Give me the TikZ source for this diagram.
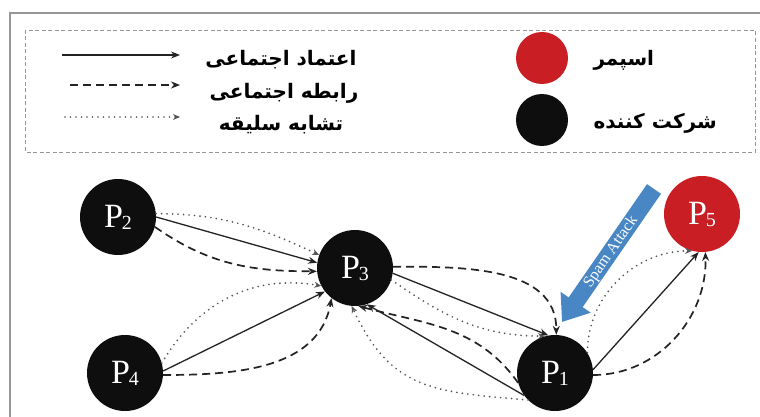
\documentclass[tikz,border=0pt]{standalone}
\usepackage{fontspec}
\setmainfont{Liberation Serif}
\newfontfamily\arabicfont[Script=Arabic]{DejaVu Sans}
\TeXXeTstate=1
\usetikzlibrary{arrows.meta}

\definecolor{nodeblack}{RGB}{14,14,14}
\definecolor{spamred}{RGB}{200,30,36}
\definecolor{attackblue}{RGB}{72,134,196}
\definecolor{framegray}{RGB}{150,150,150}
\definecolor{edgedark}{RGB}{35,35,35}
\definecolor{dotgray}{RGB}{85,85,85}

\tikzset{
  peer/.style={circle, fill=nodeblack, minimum size=76pt, inner sep=0pt,
    text=white, font=\fontsize{34}{34}\selectfont},
  spammer/.style={peer, fill=spamred},
  keydot/.style={circle, minimum size=52pt, inner sep=0pt},
  trust/.style={draw=edgedark, line width=1.3pt, -{Stealth[length=9pt,width=7pt]}},
  social/.style={draw=edgedark, line width=1.7pt, dash pattern=on 8pt off 5pt,
    -{Stealth[length=9pt,width=7pt]}},
  taste/.style={draw=dotgray, line width=1.9pt, line cap=round,
    dash pattern=on 0pt off 5.5pt, -{Stealth[length=7pt,width=6pt]}},
  legtext/.style={font=\arabicfont\bfseries\fontsize{20}{20}\selectfont},
  spamarrow/.style={draw=attackblue, line width=17pt,
    -{Triangle[length=24pt,width=35pt]}},
}
\newcommand{\plabel}[1]{P\kern-1pt\raisebox{-2pt}{\fontsize{20}{20}\selectfont #1}}

\begin{document}
\begin{tikzpicture}[x=1pt,y=-1pt]
\useasboundingbox (0,0) rectangle (760,417);
\fill[white] (0,0) rectangle (760,417);

% outer frame (top and left edges)
\draw[framegray, line width=1.6pt] (760,13) -- (10,13) -- (10,417);

% legend box
\draw[framegray, line width=0.9pt, dash pattern=on 4pt off 2.5pt] (25,30) rectangle (755,152);

% legend: edge types
\coordinate (l1s) at (62,55);  \coordinate (l1e) at (180,55);
\coordinate (l2s) at (70,85);  \coordinate (l2e) at (180,85);
\coordinate (l3s) at (65,117); \coordinate (l3e) at (180,117);
\draw[trust] (l1s) -- (l1e);
\draw[social] (l2s) -- (l2e);
\draw[taste] (l3s) -- (l3e);
\node[legtext] (t1) at (281,60) {\beginR اعتماد اجتماعی\endR};
\node[legtext] (t2) at (284,93) {\beginR رابطه اجتماعی\endR};
\node[legtext] (t3) at (281,125) {\beginR تشابه سلیقه\endR};

% legend: node types
\node[keydot, fill=spamred] (k1) at (542,58) {};
\node[keydot, fill=nodeblack] (k2) at (542,120) {};
\node[legtext, anchor=west] (t4) at (590,60) {\beginR اسپمر\endR};
\node[legtext, anchor=west] (t5) at (590,123) {\beginR شرکت کننده\endR};

% peers
\node[peer] (P2) at (118,217) {\plabel{2}};
\node[peer] (P3) at (355,268) {\plabel{3}};
\node[peer] (P4) at (125,373) {\plabel{4}};
\node[peer] (P1) at (555,373) {\plabel{1}};
\node[spammer] (P5) at (702,214) {\plabel{5}};

% P2 -> P3
\draw[trust] (P2.0) -- (P3.172);
\draw[social] (P2.-15) to[out=-35, in=180] (P3.185);
\draw[taste] (P2.5) to[out=0, in=155] (P3.160);

% P4 -> P3
\draw[trust] (P4.3) -- (P3.218);
\draw[social] (P4.-3) to[out=0, in=-100] (P3.232);
\draw[taste] (P4.15) to[out=60, in=170] (P3.208);

% P3 <-> P1
\draw[trust] (P3.-8) -- (P1.100);
\draw[social] (P3.2) to[out=0, in=90] (P1.88);
\draw[taste] (P3.-18) to[out=-35, in=180] (P1.105);
\draw[trust] (P1.216) -- (P3.-72);
\draw[social] (P1.195) to[out=125, in=-15] (P3.-85);
\draw[taste] (P1.225) to[out=175, in=-65, looseness=1.2] (P3.-95);

% P1 -> P5
\draw[trust] (P1.5) -- (P5.-95);
\draw[social] (P1.-3) to[out=0, in=-88] (P5.-85);
\draw[taste] (P1.32) to[out=90, in=180] (P5.-105);

% spam attack
\coordinate (spamtail) at (654,189);
\coordinate (spamtip) at (562,322);
\draw[spamarrow] (spamtail) -- (spamtip);
\node[rotate=55.3, text=white, inner sep=0pt, font=\fontsize{16}{16}\selectfont] (spamlabel) at (611,252) {Spam Attack};
\end{tikzpicture}
\end{document}
